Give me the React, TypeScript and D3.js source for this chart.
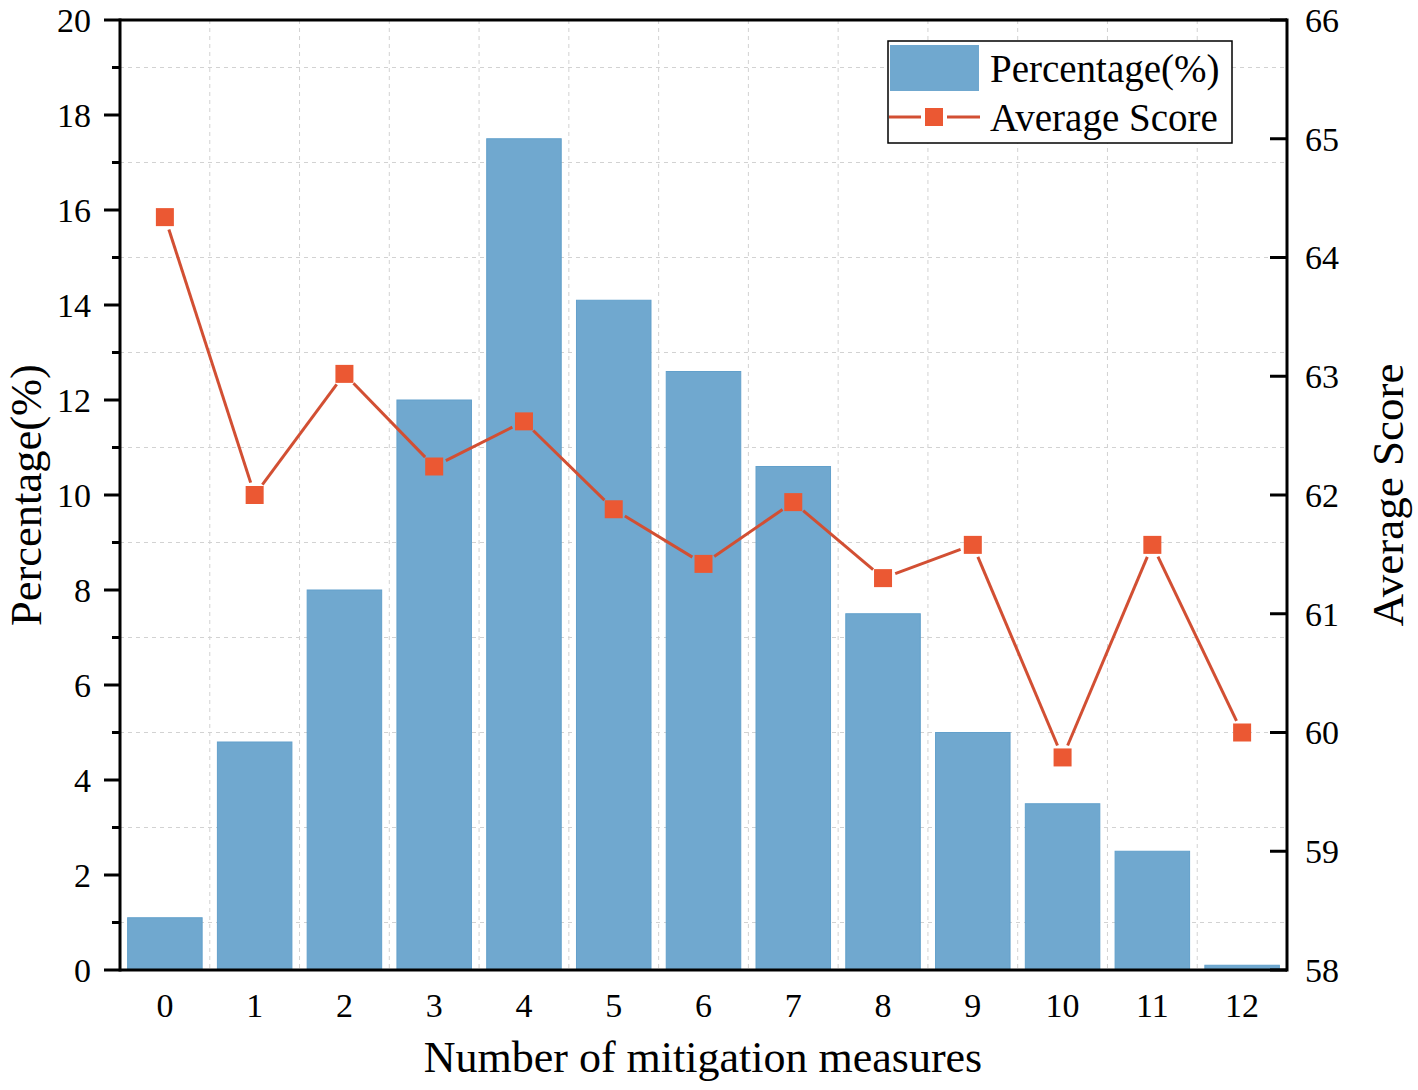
import { useEffect } from 'react';
import * as d3 from 'd3';

const categories = ['0', '1', '2', '3', '4', '5', '6', '7', '8', '9', '10', '11', '12'];
const percentage = [1.1, 4.8, 8.0, 12.0, 17.5, 14.1, 12.6, 10.6, 7.5, 5.0, 3.5, 2.5, 0.1];
const avgScore = [64.34, 62.0, 63.02, 62.24, 62.62, 61.88, 61.42, 61.94, 61.3, 61.58, 59.79, 61.58, 60.0];
const leftTicks = [0, 2, 4, 6, 8, 10, 12, 14, 16, 18, 20];
const leftMinor = [1, 3, 5, 7, 9, 11, 13, 15, 17, 19];
const rightTicks = [58, 59, 60, 61, 62, 63, 64, 65, 66];

const W = 1418;
const H = 1090;
const m = { left: 120, right: 1287, top: 20, bottom: 970 };
const FONT = '"Liberation Serif", "Times New Roman", serif';
const BAR = '#70a8cf';
const LINE = '#d24f33';
const MARK = '#eb5833';

export default function App() {
  useEffect(() => {
    document.body.style.margin = '0';
  }, []);

  const x = d3.scaleBand().domain(categories).range([m.left, m.right]).paddingInner(0.17).paddingOuter(0.085);
  const xb = d3.scaleBand().domain(categories).range([m.left, m.right]);
  const yL = d3.scaleLinear().domain([0, 20]).range([m.bottom, m.top]);
  const yR = d3.scaleLinear().domain([58, 66]).range([m.bottom, m.top]);

  const ms = 18;
  const gap = ms / 2 + 4;
  const pts = avgScore.map((v, i) => [(x(categories[i]) as number) + x.bandwidth() / 2, yR(v)] as [number, number]);

  // line segments stop short of each marker, leaving a small gap
  const segs = pts.slice(1).map((p, i) => {
    const a = pts[i];
    const dx = p[0] - a[0];
    const dy = p[1] - a[1];
    const len = Math.hypot(dx, dy);
    const ux = dx / len;
    const uy = dy / len;
    return d3.line()([
      [a[0] + ux * gap, a[1] + uy * gap],
      [p[0] - ux * gap, p[1] - uy * gap],
    ]) || '';
  });

  return (
    <svg width={W} height={H} style={{ display: 'block', background: '#fff' }} fontFamily={FONT}>
      {/* grid */}
      <g stroke="#d2d2d2" strokeWidth={1} strokeDasharray="4,4">
        {leftMinor.map((v) => (
          <line key={'h' + v} x1={m.left} x2={m.right} y1={yL(v)} y2={yL(v)} />
        ))}
        {categories.slice(1).map((c) => (
          <line key={'v' + c} x1={xb(c)} x2={xb(c)} y1={m.top} y2={m.bottom} />
        ))}
      </g>

      {/* bars */}
      <g>
        {percentage.map((v, i) => (
          <rect
            key={i}
            x={x(categories[i])}
            y={yL(v)}
            width={x.bandwidth()}
            height={m.bottom - yL(v)}
            fill={BAR}
            stroke="#62a0cb"
            strokeWidth={1}
          />
        ))}
      </g>

      {/* line */}
      <g stroke={LINE} strokeWidth={3} fill="none">
        {segs.map((d, i) => (
          <path key={i} d={d} />
        ))}
      </g>
      {pts.map(([cx, cy], i) => (
        <rect key={i} x={cx - ms / 2} y={cy - ms / 2} width={ms} height={ms} fill={MARK} />
      ))}

      {/* frame */}
      <g stroke="#000" strokeWidth={3} fill="none">
        <line x1={m.left} x2={m.left} y1={m.top - 1.5} y2={m.bottom + 1.5} />
        <line x1={m.right} x2={m.right} y1={m.top - 1.5} y2={m.bottom + 1.5} />
        <line x1={m.left} x2={m.right} y1={m.top} y2={m.top} />
        <line x1={m.left} x2={m.right} y1={m.bottom} y2={m.bottom} />
        {leftTicks.map((v) => (
          <line key={'lt' + v} x1={m.left - 16} x2={m.left} y1={yL(v)} y2={yL(v)} />
        ))}
        {leftMinor.map((v) => (
          <line key={'lm' + v} x1={m.left - 8} x2={m.left} y1={yL(v)} y2={yL(v)} />
        ))}
        {rightTicks.map((v) => (
          <line key={'rt' + v} x1={m.right - 17} x2={m.right} y1={yR(v)} y2={yR(v)} />
        ))}
      </g>

      {/* tick labels */}
      <g fontSize={34} fill="#000">
        {leftTicks.map((v) => (
          <text key={'ll' + v} x={91} y={yL(v)} dy="0.35em" textAnchor="end">{v}</text>
        ))}
        {rightTicks.map((v) => (
          <text key={'rl' + v} x={1305} y={yR(v)} dy="0.35em" textAnchor="start">{v}</text>
        ))}
        {categories.map((c) => (
          <text key={'xl' + c} x={(x(c) as number) + x.bandwidth() / 2} y={1005} dy="0.35em" textAnchor="middle">{c}</text>
        ))}
      </g>

      {/* axis titles */}
      <text x={703} y={1072} fontSize={44} textAnchor="middle">Number of mitigation measures</text>
      <text transform="translate(41,495) rotate(-90)" fontSize={44.5} textAnchor="middle">Percentage(%)</text>
      <text transform="translate(1403,495) rotate(-90)" fontSize={45} textAnchor="middle">Average Score</text>

      {/* legend */}
      <g>
        <rect x={888} y={41} width={344} height={102} fill="#fff" stroke="#000" strokeWidth={1.5} />
        <rect x={890} y={45} width={89} height={46} fill={BAR} />
        <line x1={889} x2={921} y1={117} y2={117} stroke={LINE} strokeWidth={3} />
        <line x1={947} x2={980} y1={117} y2={117} stroke={LINE} strokeWidth={3} />
        <rect x={934 - 9} y={117 - 9} width={18} height={18} fill={MARK} />
        <text x={990} y={82} fontSize={39}>Percentage(%)</text>
        <text x={990} y={131} fontSize={39}>Average Score</text>
      </g>
    </svg>
  );
}
